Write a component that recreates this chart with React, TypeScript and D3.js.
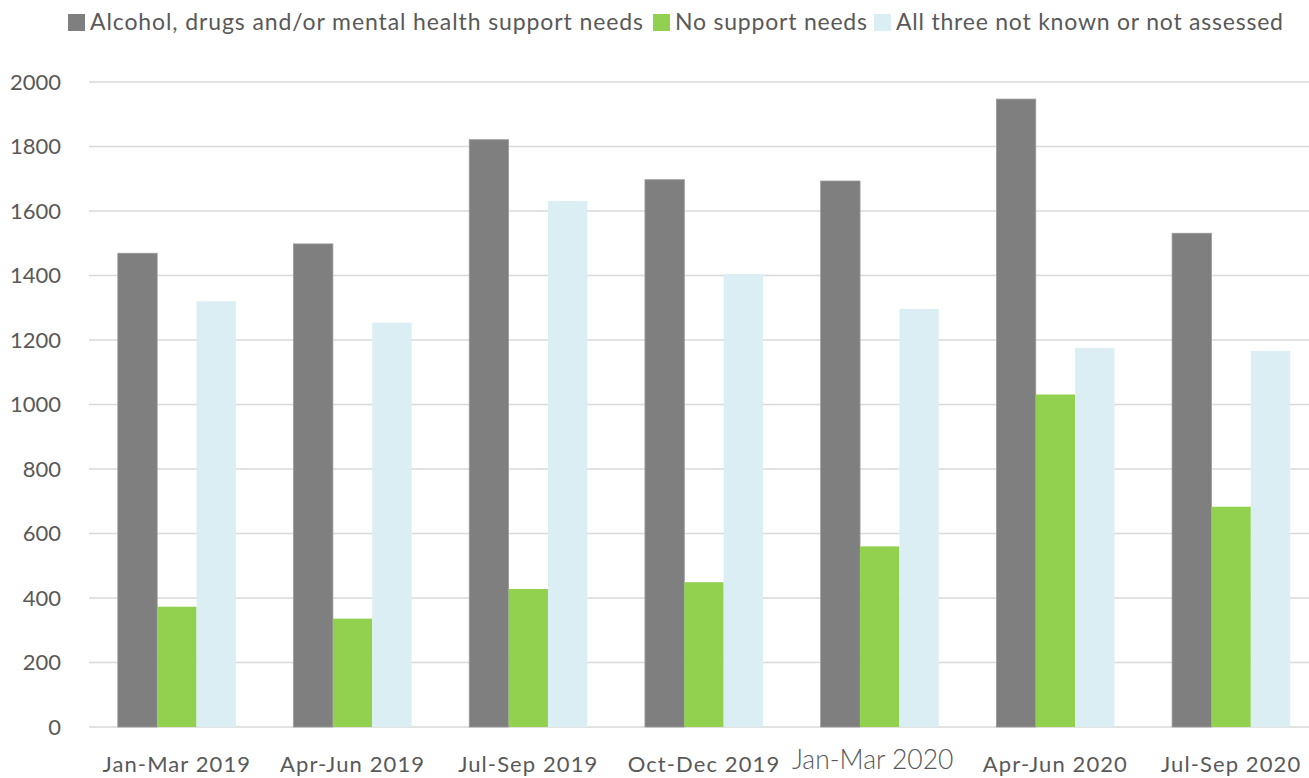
import React from "react";
import * as d3 from "d3";

const categories = ["Jan-Mar 2019", "Apr-Jun 2019", "Jul-Sep 2019", "Oct-Dec 2019", "Jan-Mar 2020", "Apr-Jun 2020", "Jul-Sep 2020"];
const seriesNames = ["Alcohol, drugs and/or mental health support needs", "No support needs", "All three not known or not assessed"];
const alcoholDrugsMental = [1469, 1498, 1821, 1697, 1693, 1947, 1531];
const noSupport = [373, 336, 428, 449, 560, 1031, 683];
const notKnown = [1320, 1254, 1631, 1405, 1296, 1175, 1166];
const yTicks = [0, 200, 400, 600, 800, 1000, 1200, 1400, 1600, 1800, 2000];
const colors = ["#7f7f7f", "#92d050", "#daeef3"];

const W = 1309;
const H = 778;

export default function App() {
  const series = [alcoholDrugsMental, noSupport, notKnown];
  const x0 = d3.scaleBand<string>().domain(categories).range([89, 1319]).paddingInner(0.328).paddingOuter(0.164);
  const x1 = d3.scaleBand<number>().domain([0, 1, 2]).range([0, x0.bandwidth()]);
  const y = d3.scaleLinear().domain([0, 2000]).range([727, 82]);
  const font = "Lato, 'Open Sans', sans-serif";
  const legendX = [68, 653, 874];
  const legendLen = [553, 192, 387];

  return (
    <svg width={W} height={H} style={{ position: "absolute", left: 0, top: 0, background: "#fff" }} fontFamily={font}>
      {yTicks.map((t) => (
        <g key={t}>
          <line x1={89} x2={W} y1={y(t)} y2={y(t)} stroke="#d9d9d9" strokeWidth={1.5} />
          <text x={61} y={y(t)} dy="0.35em" textAnchor="end" fontSize={22} fill="#595959">{t}</text>
        </g>
      ))}
      {categories.map((c, i) => (
        <g key={c} transform={`translate(${x0(c)},0)`}>
          {series.map((s, j) => (
            <rect
              key={j}
              x={x1(j)}
              y={y(s[i])}
              width={x1.bandwidth()}
              height={y(0) - y(s[i])}
              fill={colors[j]}
              stroke={j === 0 ? "#999999" : "none"}
              strokeWidth={j === 0 ? 0.8 : 0}
            />
          ))}
        </g>
      ))}
      {categories.map((c) =>
        c === "Jan-Mar 2020" ? (
          <text key={c} x={(x0(c) as number) + x0.bandwidth() / 2 - 7} y={769} textAnchor="middle" fontSize={26.5} fontWeight={300} fill="#595959">{c}</text>
        ) : (
          <text key={c} x={(x0(c) as number) + x0.bandwidth() / 2} y={772} textAnchor="middle" fontSize={22} letterSpacing={1.1} fill="#595959">{c}</text>
        )
      )}
      {seriesNames.map((n, j) => (
        <g key={n}>
          <rect x={legendX[j]} y={14} width={17} height={17} fill={colors[j]} />
          <text x={legendX[j] + 22} y={30} fontSize={23} fill="#595959" textLength={legendLen[j]} lengthAdjust="spacing">{n}</text>
        </g>
      ))}
    </svg>
  );
}
